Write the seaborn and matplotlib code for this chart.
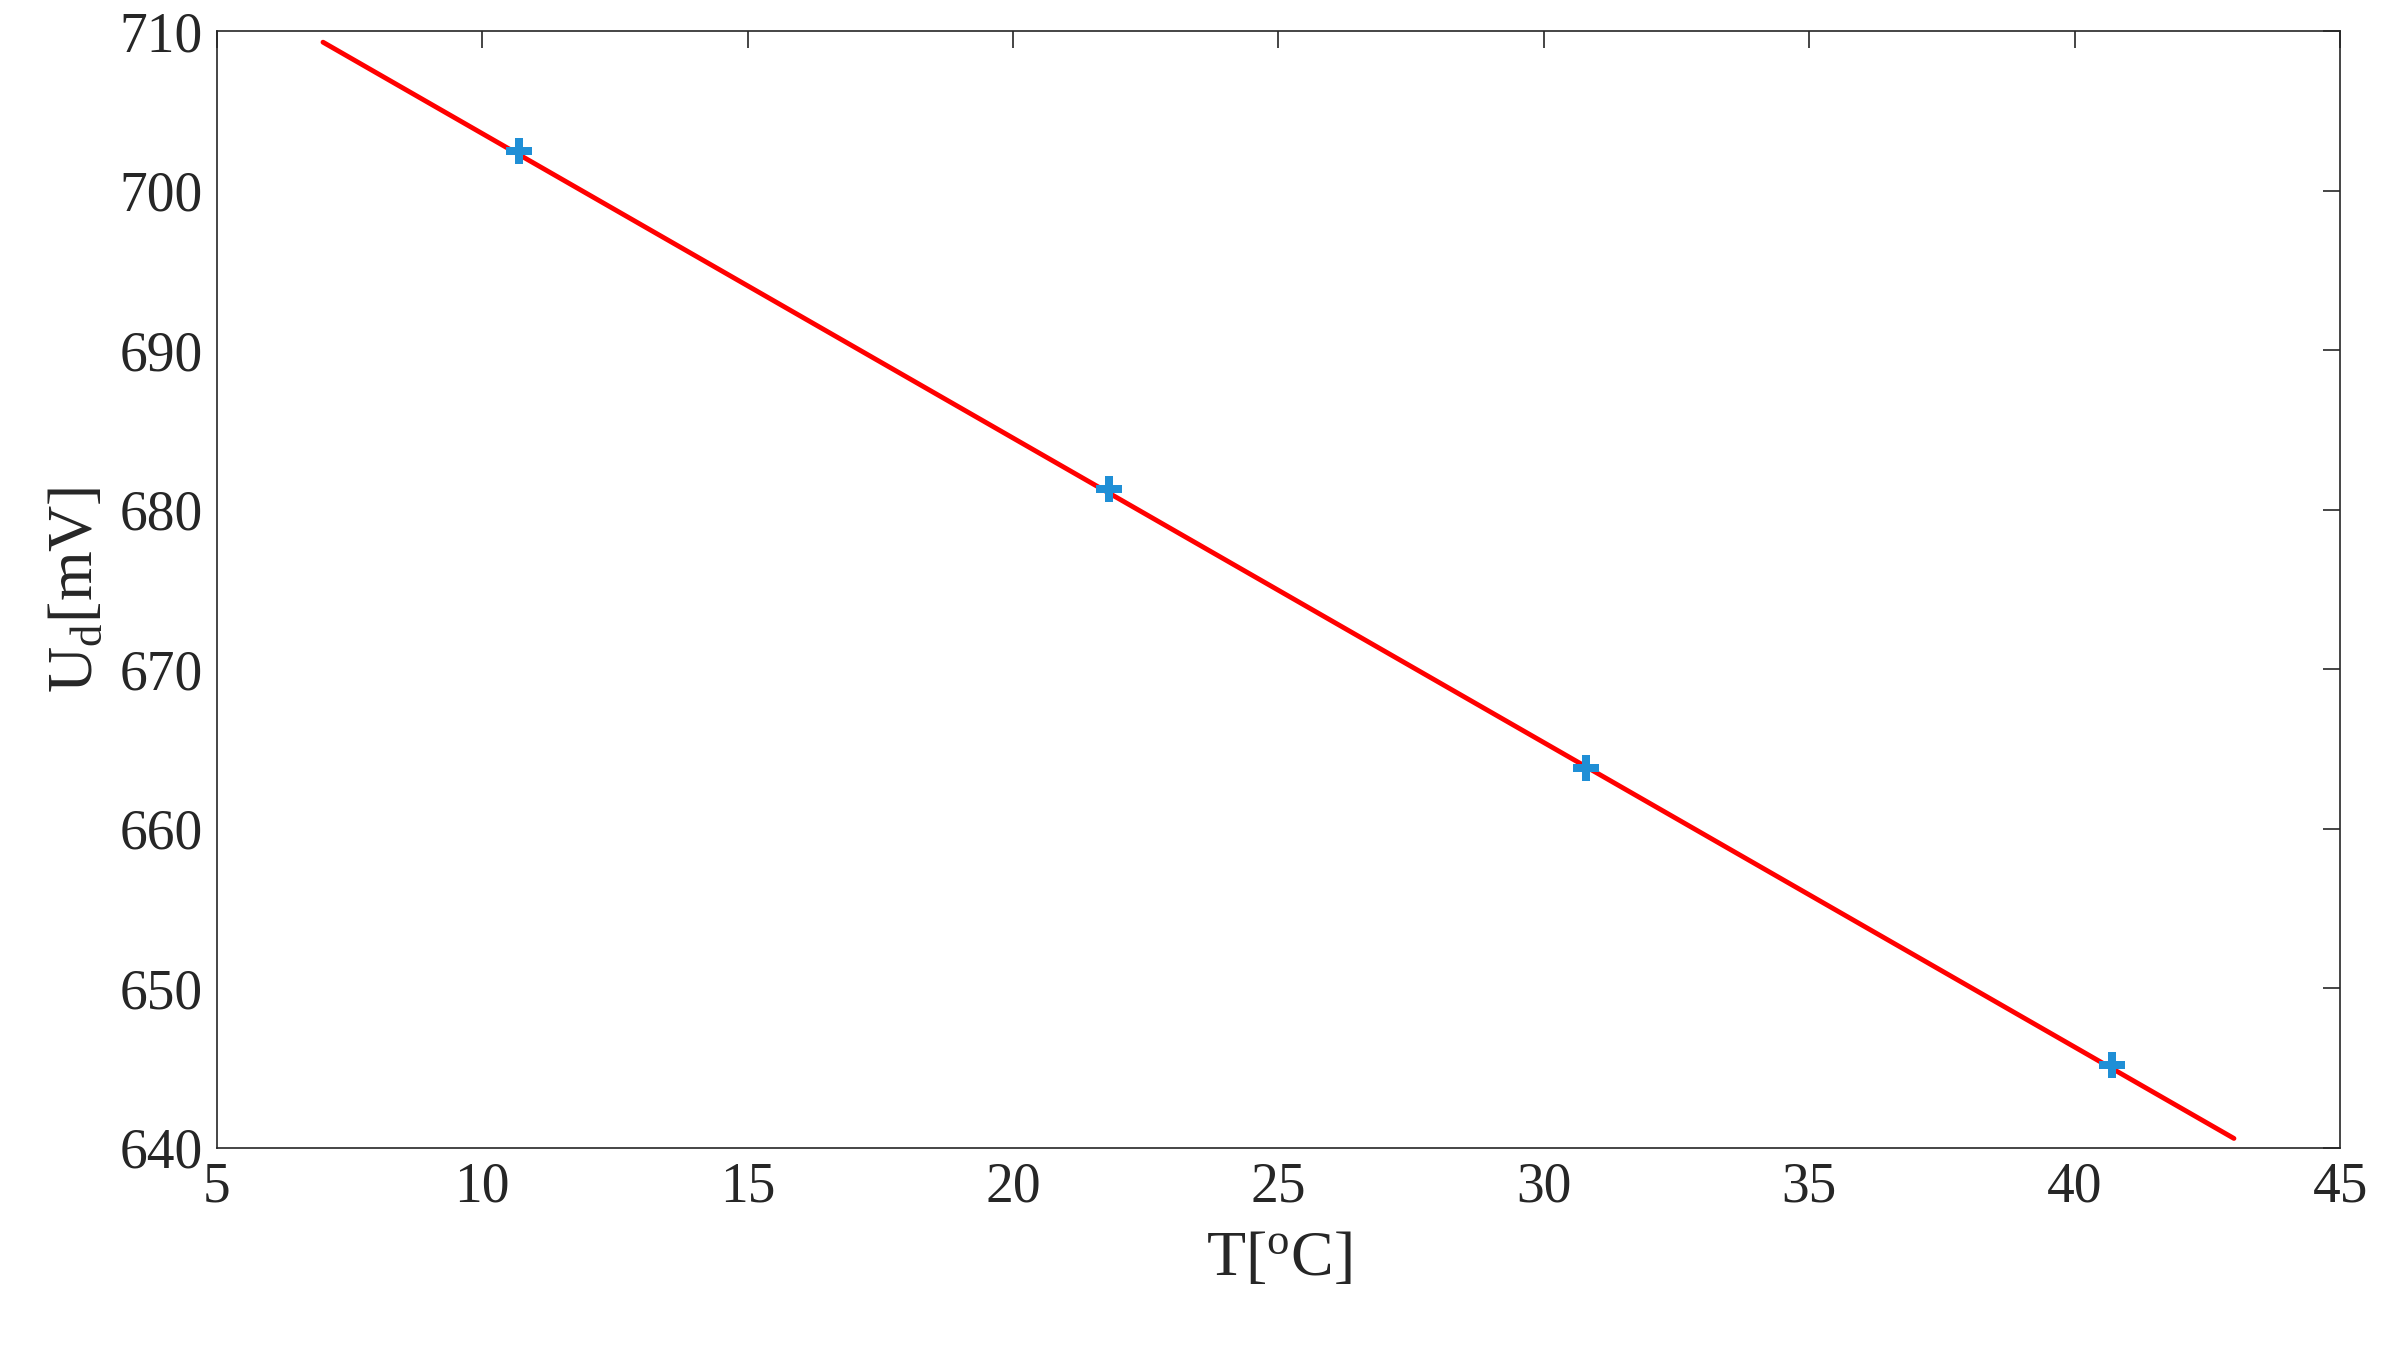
import matplotlib
matplotlib.use("Agg")
import matplotlib.pyplot as plt
import seaborn as sns
import pandas as pd

temps = [10.7, 21.8, 30.8, 40.7]
volts = [702.5, 681.3, 663.8, 645.2]
fit_t = [7.0, 43.0]
fit_u = [709.3, 640.6]

sns.set_style("white")
plt.rcParams['font.family'] = ['Liberation Serif', 'DejaVu Serif']
plt.rcParams['mathtext.fontset'] = 'custom'
plt.rcParams['mathtext.rm'] = 'Liberation Serif'

fig = plt.figure(figsize=(23.83, 13.49), dpi=100)
ax = fig.add_axes([0.091, 0.149, 0.891, 0.828])
sns.lineplot(x=fit_t, y=fit_u, color='red', linewidth=3.5, ax=ax)
sns.scatterplot(x=temps, y=volts, marker='P', s=350, color='#1f8fd6', edgecolor='#1f8fd6', linewidth=0, ax=ax, zorder=3)
ax.set_xlim(5, 45)
ax.set_ylim(640, 710)
ax.set_xticks(range(5, 46, 5))
ax.set_yticks(range(640, 711, 10))
ax.tick_params(direction='in', top=True, right=True, length=12, width=1.2, labelsize=40, colors='#262626', pad=10)
for s in ax.spines.values():
    s.set_color('#262626'); s.set_linewidth(1.2)
ax.set_xlabel(r'T[$\mathrm{^{o}C}$]', fontsize=46, color='#262626', labelpad=12)
ax.set_ylabel(r'U$_{\mathrm{d}}$[mV]', fontsize=46, color='#262626', labelpad=10)
fig.savefig('out.png', dpi=100)
